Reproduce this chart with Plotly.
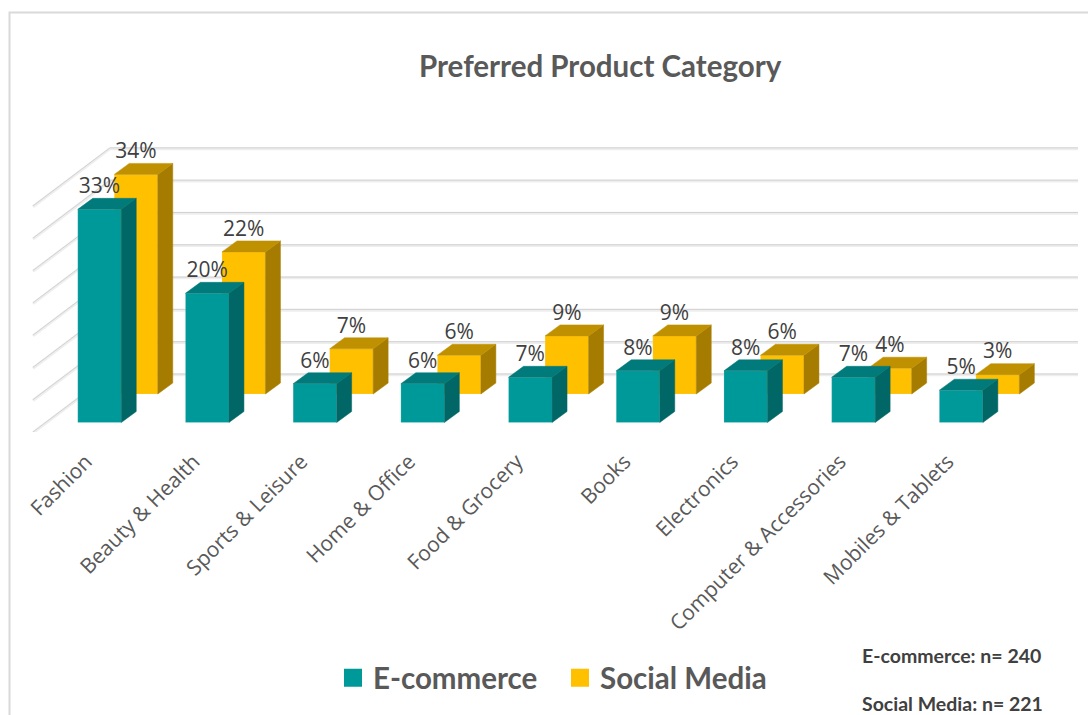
import plotly.graph_objects as go

categories = ["Fashion", "Beauty & Health", "Sports & Leisure", "Home & Office", "Food & Grocery",
              "Books", "Electronics", "Computer & Accessories", "Mobiles & Tablets"]
ecommerce = [33, 20, 6, 6, 7, 8, 8, 7, 5]
social_media = [34, 22, 7, 6, 9, 9, 6, 4, 3]
wall_levels = [0, 5, 10, 15, 20, 25, 30, 35]

W, H = 1088, 715
PLOT_H = 432
PX_PER_CAT = 107.7
PX_PER_PCT = 6.46
X0 = -0.924
Y0 = -1.47

BAR_W = 0.404
DEPTH_X, DEPTH_Y = 0.139, 1.70      # oblique offset of a bar's rear face
REAR_DX, REAR_BASE = 0.339, 4.41    # second row sits behind the first
WALL_DX, WALL_DY = 0.715, 8.98      # side wall run from front to back
WALL_X = -0.618
WALL_END = 9.085

TEAL = ("#009999", "#007a7a", "#006666")
GOLD = ("#FFC000", "#bf9000", "#a67c00")
LABEL_FONT = "Open Sans"
BOLD_FONT = "Lato"


def faces(centres, base, values):
    """Top and side polygons of the oblique boxes, separated by gaps."""
    tx, ty, sx, sy = [], [], [], []
    for c, v in zip(centres, values):
        l, r, t = c - BAR_W / 2, c + BAR_W / 2, base + v
        tx += [l, r, r + DEPTH_X, l + DEPTH_X, l, None]
        ty += [t, t, t + DEPTH_Y, t + DEPTH_Y, t, None]
        sx += [r, r + DEPTH_X, r + DEPTH_X, r, r, None]
        sy += [base, base + DEPTH_Y, t + DEPTH_Y, t, base, None]
    return tx, ty, sx, sy


def grid_line(x0, y0, x1, y1):
    return [
        dict(type="line", xref="x", yref="y", layer="below", x0=x0, y0=y0 - 0.12, x1=x1, y1=y1 - 0.12,
             line=dict(color="#eeeeee", width=3)),
        dict(type="line", xref="x", yref="y", layer="below", x0=x0, y0=y0, x1=x1, y1=y1,
             line=dict(color="#d2d2d2", width=1)),
    ]


front_x = list(range(len(categories)))
rear_x = [i + REAR_DX for i in front_x]

fig = go.Figure()


def add_row(name, centres, base, values, colours):
    front, top, side = colours
    fig.add_trace(go.Bar(x=centres, y=values, base=[base] * len(values), width=BAR_W, name=name,
                         marker=dict(color=front, line=dict(color="rgba(255,255,255,0.25)", width=0.6)),
                         showlegend=False))


def add_faces(centres, base, values, colours):
    front, top, side = colours
    tx, ty, sx, sy = faces(centres, base, values)
    for xs, ys, col in ((sx, sy, side), (tx, ty, top)):
        fig.add_trace(go.Scatter(x=xs, y=ys, mode="lines", fill="toself", fillcolor=col,
                                 line=dict(color=col, width=0.5), hoverinfo="skip", showlegend=False))


add_row("Social Media", rear_x, REAR_BASE, social_media, GOLD)
add_row("E-commerce", front_x, 0, ecommerce, TEAL)
add_faces(rear_x, REAR_BASE, social_media, GOLD)
add_faces(front_x, 0, ecommerce, TEAL)

# Value labels rest on the rear edge of each box's top face
for centres, base, values in ((rear_x, REAR_BASE, social_media), (front_x, 0, ecommerce)):
    fig.add_trace(go.Scatter(x=centres, y=[base + v + DEPTH_Y for v in values],
                             mode="text", text=[f"{v}%" for v in values], textposition="top center",
                             textfont=dict(family=LABEL_FONT, size=21, color="#404040"),
                             hoverinfo="skip", showlegend=False))

# Legend entries
for name, col in (("E-commerce", TEAL[0]), ("Social Media", GOLD[0])):
    fig.add_trace(go.Scatter(x=[None], y=[None], mode="markers", name=name,
                             marker=dict(symbol="square", size=16, color=col, line=dict(color=col, width=2))))

shapes = []
for lv in wall_levels:
    fy = Y0 + lv
    shapes += grid_line(WALL_X, fy, WALL_X + WALL_DX, fy + WALL_DY)
    shapes += grid_line(WALL_X + WALL_DX, fy + WALL_DY, WALL_END, fy + WALL_DY)

# Outer chart frame
frame = dict(type="rect", xref="paper", yref="paper", layer="below",
             x0=9.5 / W, x1=1100 / W, y0=1 - 730 / PLOT_H, y1=1 - 12.5 / PLOT_H,
             line=dict(color="#d9d9d9", width=2), fillcolor="rgba(0,0,0,0)")
shapes.append(frame)


def page_text(text, px, py, size, family=BOLD_FONT, color="#404040", anchor="left"):
    return dict(text=text, xref="paper", yref="paper", x=px / W, y=1 - py / PLOT_H, showarrow=False,
                xanchor=anchor, yanchor="middle",
                font=dict(family=family, size=size, color=color, weight=700))


fig.update_layout(
    width=W, height=H, margin=dict(l=0, r=0, t=0, b=H - PLOT_H, pad=0),
    paper_bgcolor="white", plot_bgcolor="white", barmode="overlay",
    xaxis=dict(range=[X0, X0 + W / PX_PER_CAT], tickvals=[i - 0.125 for i in front_x], ticktext=categories,
               tickangle=-45, ticks="outside", ticklen=8, tickcolor="rgba(0,0,0,0)",
               tickfont=dict(family=LABEL_FONT, size=21, color="#595959"),
               showgrid=False, zeroline=False, showline=False, automargin=False),
    yaxis=dict(range=[Y0, Y0 + PLOT_H / PX_PER_PCT], visible=False),
    shapes=shapes,
    annotations=[
        page_text("Preferred Product Category", 600, 65, 29.5, color="#595959", anchor="center"),
        page_text("E-commerce: n= 240", 860, 655, 19.5),
        page_text("Social Media: n= 221", 860, 703, 19.5),
    ],
    legend=dict(orientation="h", x=333 / W, y=1 - 678 / PLOT_H, xanchor="left", yanchor="middle",
                entrywidth=182, entrywidthmode="pixels", bgcolor="rgba(0,0,0,0)", itemclick=False,
                font=dict(family=BOLD_FONT, size=29.5, color="#595959", weight=700)),
)

fig.write_html("out.html")
